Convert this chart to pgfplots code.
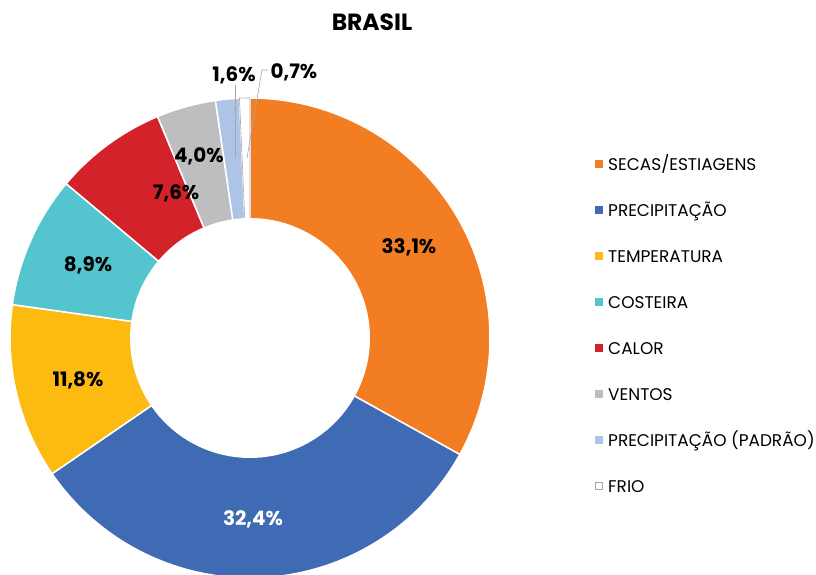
\documentclass[border=0pt]{standalone}
\usepackage{pgfplots}
\pgfplotsset{compat=1.18}
\usepackage{fontspec}
\setmainfont{Poppins}
\definecolor{cSecas}{HTML}{F37D22}
\definecolor{cPrec}{HTML}{3E6BB4}
\definecolor{cTemp}{HTML}{FDBB12}
\definecolor{cCost}{HTML}{54C4CF}
\definecolor{cCalor}{HTML}{D3222A}
\definecolor{cVent}{HTML}{BDBEC0}
\definecolor{cPad}{HTML}{ADC4E6}
\definecolor{cFrioB}{HTML}{A6A6A6}
\newcommand{\lbl}{\fontsize{20}{20}\selectfont\bfseries}
\newcommand{\leg}{\fontsize{17}{17}\selectfont}
\begin{document}
\begin{tikzpicture}
\useasboundingbox (0,0) rectangle (816bp,575bp);
% values (%): 33.1, 32.4, 11.8, 8.9, 7.6, 4.0, 1.6, 0.7 ; cumulative bounds used as domains
\begin{axis}[x=240bp, y=240bp, hide axis, xmin=-1.1, xmax=1.1, ymin=-1.1, ymax=1.2,
  clip=false, at={(250bp,237bp)}, anchor=origin, variable=\t,
  every axis plot/.append style={draw=white, line width=1.5bp}]
\addplot[fill=cSecas, domain=0:33.1, samples=90] ({cos(90-\t*360/100.1)},{sin(90-\t*360/100.1)}) -- (axis cs:0,0) -- cycle;
\addplot[fill=cPrec, domain=33.1:65.5, samples=90] ({cos(90-\t*360/100.1)},{sin(90-\t*360/100.1)}) -- (axis cs:0,0) -- cycle;
\addplot[fill=cTemp, domain=65.5:77.3, samples=40] ({cos(90-\t*360/100.1)},{sin(90-\t*360/100.1)}) -- (axis cs:0,0) -- cycle;
\addplot[fill=cCost, domain=77.3:86.2, samples=30] ({cos(90-\t*360/100.1)},{sin(90-\t*360/100.1)}) -- (axis cs:0,0) -- cycle;
\addplot[fill=cCalor, domain=86.2:93.8, samples=30] ({cos(90-\t*360/100.1)},{sin(90-\t*360/100.1)}) -- (axis cs:0,0) -- cycle;
\addplot[fill=cVent, domain=93.8:97.8, samples=15] ({cos(90-\t*360/100.1)},{sin(90-\t*360/100.1)}) -- (axis cs:0,0) -- cycle;
\addplot[fill=cPad, domain=97.8:99.4, samples=8] ({cos(90-\t*360/100.1)},{sin(90-\t*360/100.1)}) -- (axis cs:0,0) -- cycle;
\addplot[fill=white, draw=cFrioB, line width=0.6bp, domain=99.4:100.1, samples=5] ({cos(90-\t*360/100.1)},{sin(90-\t*360/100.1)}) -- (axis cs:0,0) -- cycle;
% hole
\addplot[fill=white, draw=none, domain=0:360, samples=120] ({0.5*cos(\t)},{0.5*sin(\t)}) -- cycle;
% leader lines
\draw[cFrioB, line width=0.6bp] (axis cs:-0.0625,1.055) -- (axis cs:-0.0625,0.75);
\draw[cFrioB, line width=0.6bp] (axis cs:0.075,1.1167) -- (axis cs:0.05,1.1167) -- (axis cs:-0.0125,0.75);
% labels
\node[font=\lbl] at (axis cs:0.6625,0.379) {33,1\%};
\node[font=\lbl, text=white] at (axis cs:0.0125,-0.754) {32,4\%};
\node[font=\lbl] at (axis cs:-0.7167,-0.175) {11,8\%};
\node[font=\lbl] at (axis cs:-0.675,0.304) {8,9\%};
\node[font=\lbl] at (axis cs:-0.308,0.604) {7,6\%};
\node[font=\lbl] at (axis cs:-0.2125,0.758) {4,0\%};
\node[font=\lbl] at (axis cs:-0.0667,1.096) {1,6\%};
\node[font=\lbl] at (axis cs:0.183,1.108) {0,7\%};
\end{axis}
% title
\node[font=\fontsize{23.5}{23.5}\selectfont\bfseries] at (372bp,553bp) {BRASIL};
% legend
\foreach \c/\txt/\b in {cSecas/SECAS\slash ESTIAGENS/171, cPrec/PRECIPITAÇÃO/217, cTemp/TEMPERATURA/263, cCost/COSTEIRA/309, cCalor/CALOR/355, cVent/VENTOS/401, cPad/PRECIPITAÇÃO (PADRÃO)/447}{
  \pgfmathsetmacro\yy{575-\b}
  \pgfmathsetmacro\ys{575-\b+3}
  \fill[\c] (595bp,\ys bp) rectangle ++(8bp,8bp);
  \node[font=\leg, anchor=base west, inner sep=0pt] at (608bp,\yy bp) {\txt};
}
\draw[cFrioB, fill=white, line width=0.6bp] (595.3bp,85.3bp) rectangle ++(7.4bp,7.4bp);
\node[font=\leg, anchor=base west, inner sep=0pt] at (608bp,82bp) {FRIO};
\end{tikzpicture}
\end{document}
